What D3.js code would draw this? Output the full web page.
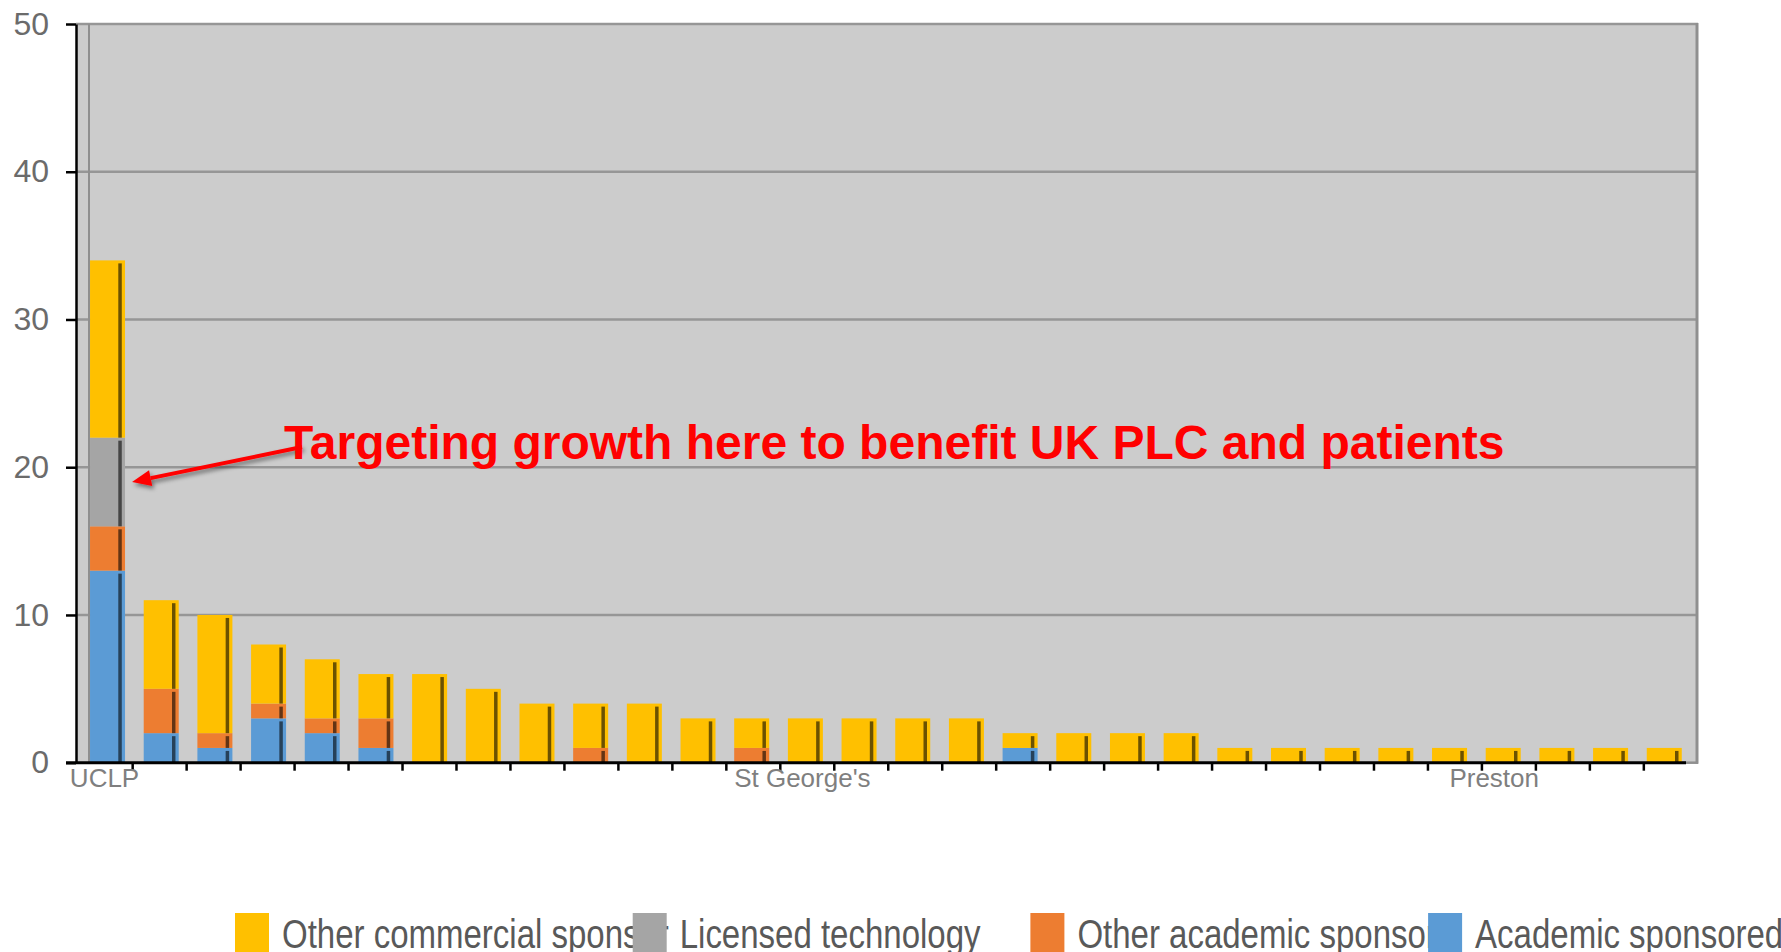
<!DOCTYPE html>
<html>
<head>
<meta charset="utf-8">
<script src="https://cdn.jsdelivr.net/npm/d3@7"></script>
<style>
  html, body { margin: 0; padding: 0; background: #ffffff; }
  svg { display: block; }
  text { font-family: "Liberation Sans", Arial, Helvetica, sans-serif; }
</style>
</head>
<body>
<div id="chart"></div>
<script>
// Trials per site, stacked by sponsorship type (sites ranked by total)
const sites = [
  "UCLP", "", "", "", "", "", "", "", "", "", "", "", "",
  "St George's", "", "", "", "", "", "", "", "", "", "", "", "",
  "Preston", "", "", ""
];
const academicSponsored      = [13, 2, 1, 3, 2, 1, 0, 0, 0, 0, 0, 0, 0, 0, 0, 0, 0, 1, 0, 0, 0, 0, 0, 0, 0, 0, 0, 0, 0, 0];
const otherAcademicSponsor   = [ 3, 3, 1, 1, 1, 2, 0, 0, 0, 1, 0, 0, 1, 0, 0, 0, 0, 0, 0, 0, 0, 0, 0, 0, 0, 0, 0, 0, 0, 0];
const licensedTechnology     = [ 6, 0, 0, 0, 0, 0, 0, 0, 0, 0, 0, 0, 0, 0, 0, 0, 0, 0, 0, 0, 0, 0, 0, 0, 0, 0, 0, 0, 0, 0];
const otherCommercialSponsor = [12, 6, 8, 4, 4, 3, 6, 5, 4, 3, 4, 3, 2, 3, 3, 3, 3, 1, 2, 2, 2, 1, 1, 1, 1, 1, 1, 1, 1, 1];
const yTicks = [0, 10, 20, 30, 40, 50];

// Stack order bottom -> top; legend order is the reverse
const seriesKeys   = ["academic", "otherAcademic", "licensed", "commercial"];
const seriesNames  = {
  academic: "Academic sponsored",
  otherAcademic: "Other academic sponsor",
  licensed: "Licensed technology",
  commercial: "Other commercial sponsor"
};
const seriesColors = {
  academic: "#5B9BD5",
  otherAcademic: "#ED7D31",
  licensed: "#A5A5A5",
  commercial: "#FFC000"
};
const annotation = "Targeting growth here to benefit UK PLC and patients";

const rows = sites.map((s, i) => ({
  i,
  site: s,
  academic: academicSponsored[i],
  otherAcademic: otherAcademicSponsor[i],
  licensed: licensedTechnology[i],
  commercial: otherCommercialSponsor[i]
}));

const W = 1781, H = 952;
const plot = { left: 76, right: 1698, top: 24, bottom: 762.7 };

const svg = d3.select("#chart").append("svg")
  .attr("width", W).attr("height", H)
  .attr("viewBox", `0 0 ${W} ${H}`);

const defs = svg.append("defs");
const shadow = defs.append("filter").attr("id", "arrowShadow")
  .attr("x", "-20%").attr("y", "-50%").attr("width", "140%").attr("height", "200%");
shadow.append("feDropShadow")
  .attr("dx", 2).attr("dy", 3).attr("stdDeviation", 2)
  .attr("flood-color", "#000").attr("flood-opacity", 0.45);

// Scales
const y = d3.scaleLinear().domain([0, 50]).range([plot.bottom, plot.top]);
const x = d3.scaleBand()
  .domain(d3.range(sites.length))
  .range([80.7, 1691.1])
  .paddingInner(0.348)
  .paddingOuter(0.174);
// category slots used for the axis tick marks
const slot = d3.scaleBand().domain(d3.range(sites.length)).range([78.7, 1697.8]);

// Plot background
svg.append("rect")
  .attr("x", plot.left).attr("y", plot.top)
  .attr("width", plot.right - plot.left).attr("height", plot.bottom - plot.top)
  .attr("fill", "#cccccc");

// Horizontal gridlines (including the top border at 50)
svg.append("g")
  .selectAll("line")
  .data(yTicks.filter(t => t > 0))
  .join("line")
  .attr("x1", plot.left).attr("x2", plot.right)
  .attr("y1", d => y(d)).attr("y2", d => y(d))
  .attr("stroke", "#969696").attr("stroke-width", 2.5);

// Inner left border and right border of the plot area
svg.append("line")
  .attr("x1", 89).attr("x2", 89).attr("y1", plot.top).attr("y2", plot.bottom)
  .attr("stroke", "#8f8f8f").attr("stroke-width", 2);
svg.append("line")
  .attr("x1", plot.right - 1).attr("x2", plot.right - 1).attr("y1", plot.top - 1).attr("y2", plot.bottom + 1)
  .attr("stroke", "#8f8f8f").attr("stroke-width", 3);
svg.append("line")
  .attr("x1", 1680).attr("x2", plot.right).attr("y1", plot.bottom).attr("y2", plot.bottom)
  .attr("stroke", "#8f8f8f").attr("stroke-width", 2.5);

// Stacked bars
const stacked = d3.stack().keys(seriesKeys)(rows);
const bw = x.bandwidth();
const layers = svg.append("g").selectAll("g")
  .data(stacked)
  .join("g")
  .attr("fill", d => seriesColors[d.key]);

layers.selectAll("rect")
  .data(d => d.filter(s => s[1] > s[0]))
  .join("rect")
  .attr("x", d => x(d.data.i))
  .attr("y", d => y(d[1]))
  .attr("width", bw)
  .attr("height", d => y(d[0]) - y(d[1]));

// darker edge line drawn down the right side of every segment
layers.selectAll("line")
  .data(d => d.filter(s => s[1] > s[0]))
  .join("line")
  .attr("x1", d => x(d.data.i) + bw - 5)
  .attr("x2", d => x(d.data.i) + bw - 5)
  .attr("y1", d => y(d[1]) + 3)
  .attr("y2", d => y(d[0]))
  .attr("stroke", "rgba(0,0,0,0.58)")
  .attr("stroke-width", 3.5);

// Y axis
const yAxis = svg.append("g")
  .attr("transform", `translate(${plot.left},0)`)
  .call(d3.axisLeft(y).tickValues(yTicks).tickSize(10).tickPadding(17).tickSizeOuter(0));
yAxis.select(".domain").attr("stroke", "#000").attr("stroke-width", 2.5);
yAxis.selectAll(".tick line").attr("stroke", "#000").attr("stroke-width", 2.5);
yAxis.selectAll(".tick text")
  .attr("fill", "#6b6b6b")
  .style("font-size", "32px")
  .style("font-family", "'Liberation Sans', Arial, sans-serif");

// X axis: baseline, slot boundary ticks, sparse site labels
svg.append("line")
  .attr("x1", 66).attr("x2", 1686)
  .attr("y1", plot.bottom).attr("y2", plot.bottom)
  .attr("stroke", "#000").attr("stroke-width", 3);
svg.append("g").selectAll("line")
  .data(d3.range(1, sites.length))
  .join("line")
  .attr("x1", d => slot(d)).attr("x2", d => slot(d))
  .attr("y1", plot.bottom).attr("y2", plot.bottom + 8)
  .attr("stroke", "#000").attr("stroke-width", 2.5);
svg.append("g").selectAll("text")
  .data(rows.filter(r => r.site !== ""))
  .join("text")
  .attr("x", d => x(d.i) + bw / 2 - 3 - (d.i > 20 ? 6 : 0))
  .attr("y", 786.5)
  .attr("text-anchor", "middle")
  .attr("fill", "#7f7f7f")
  .style("font-size", "26px")
  .text(d => d.site);

// Annotation: arrow pointing at the licensed-technology segment of the first bar
const tip = [x(0) + bw + 7, y(19)];
const tail = [302, 447];
const ang = Math.atan2(tip[1] - tail[1], tip[0] - tail[0]);
const headLen = 19, headHalf = 8;
const base = [tip[0] - headLen * Math.cos(ang), tip[1] - headLen * Math.sin(ang)];
const arrow = svg.append("g").attr("filter", "url(#arrowShadow)");
arrow.append("line")
  .attr("x1", tail[0]).attr("y1", tail[1])
  .attr("x2", base[0]).attr("y2", base[1])
  .attr("stroke", "#ff0000").attr("stroke-width", 4);
arrow.append("path")
  .attr("d", d3.line()([
    tip,
    [base[0] + headHalf * Math.sin(ang), base[1] - headHalf * Math.cos(ang)],
    [base[0] - headHalf * Math.sin(ang), base[1] + headHalf * Math.cos(ang)]
  ]) + "Z")
  .attr("fill", "#ff0000");

svg.append("text")
  .attr("x", 284).attr("y", 458.5)
  .attr("fill", "#ff0000")
  .style("font-size", "48px")
  .style("font-weight", "bold")
  .text(annotation);

// Legend (top series first); each swatch is drawn over the tail of the previous label
const legendKeys = seriesKeys.slice().reverse();
const lx = d3.scaleLinear().domain([0, 1]).range([235, 632.7]);
const items = svg.append("g").selectAll("g")
  .data(legendKeys)
  .join("g");
items.append("text")
  .attr("transform", (d, i) => `translate(${lx(i) + 47},947.5) scale(1,1.25)`)
  .attr("fill", "#595959")
  .style("font-size", "33px")
  .text(d => seriesNames[d]);
items.append("rect")
  .attr("x", (d, i) => lx(i))
  .attr("y", 913)
  .attr("width", 34)
  .attr("height", 44)
  .attr("fill", d => seriesColors[d]);
</script>
</body>
</html>
